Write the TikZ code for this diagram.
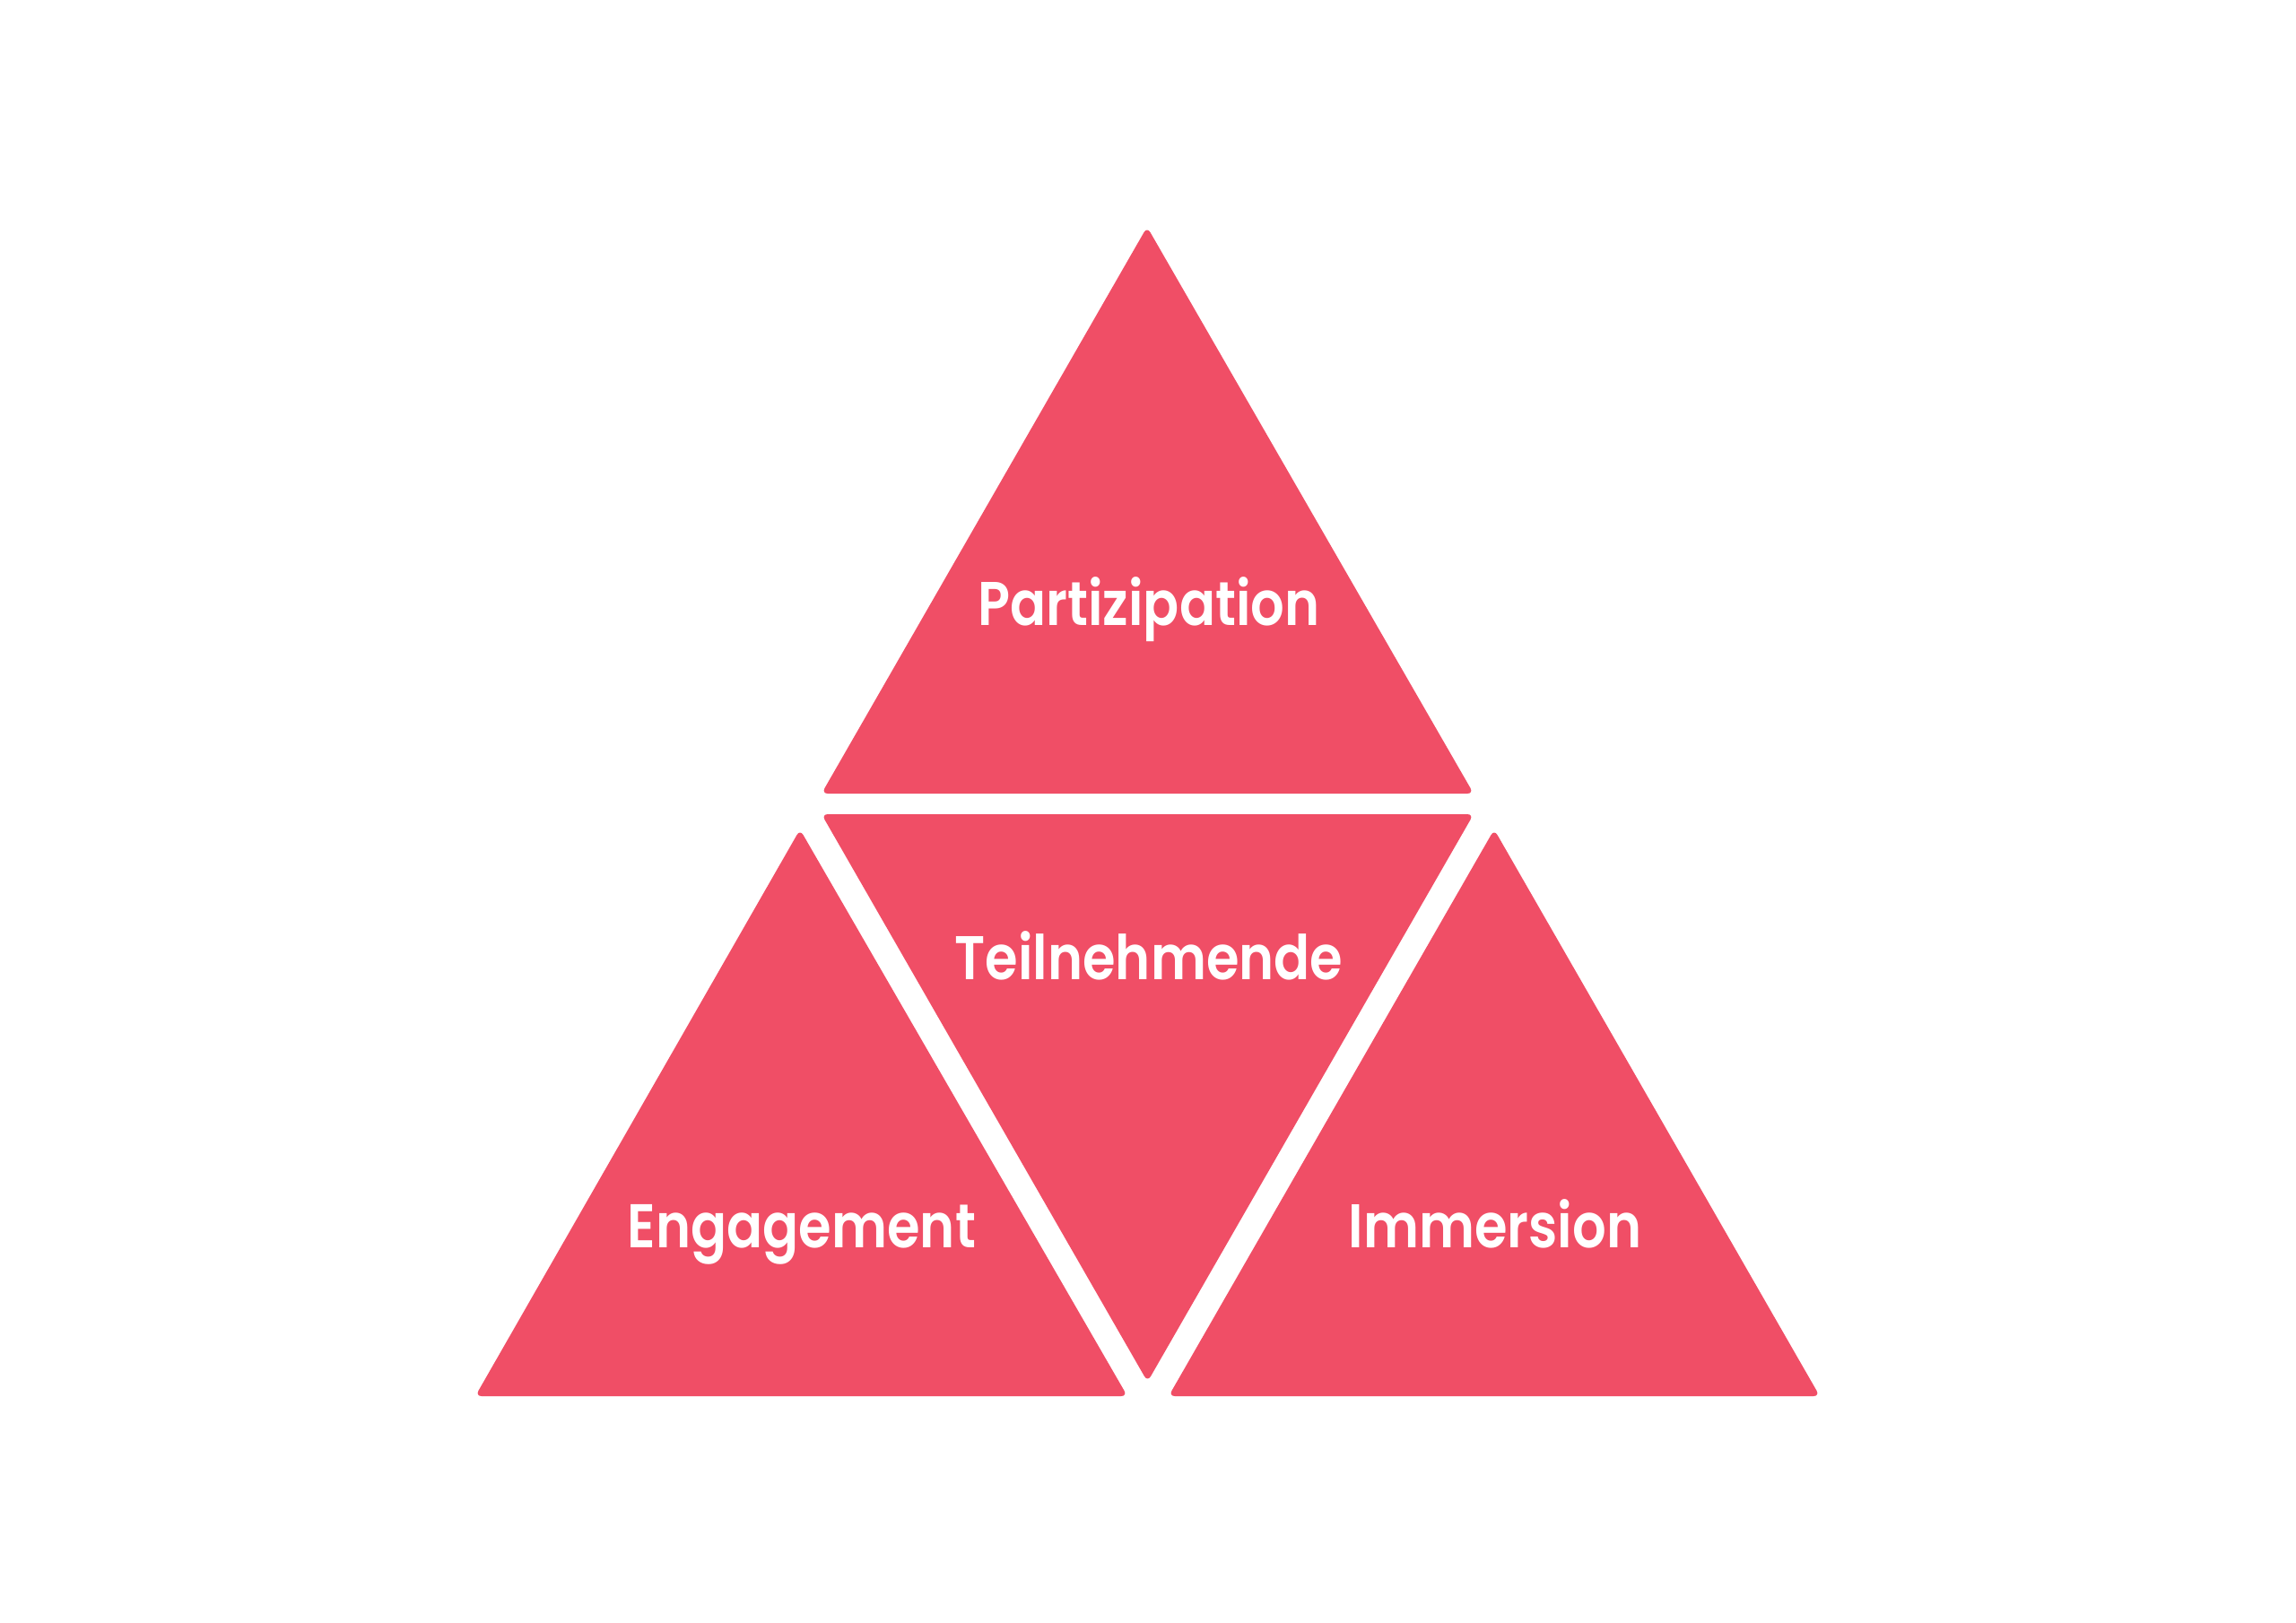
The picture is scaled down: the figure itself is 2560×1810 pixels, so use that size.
\documentclass[tikz,border=0pt]{standalone}
\usepackage{fontspec}
\setmainfont{Poppins}[BoldFont={Poppins SemiBold}]
\definecolor{tri}{HTML}{F04E66}
\newcommand{\narrowlbl}[1]{\scalebox{0.86}[1]{#1}}
\begin{document}
\begin{tikzpicture}[x=0.5pt,y=-0.5pt,
  tribox/.style={fill=tri,draw=none,rounded corners=3.5pt},
  lbl/.style={anchor=base,inner sep=0pt,text=white,font=\fontsize{34.4}{34.4}\selectfont\bfseries}]
\useasboundingbox[fill=white] (0,0) rectangle (2560,1810);
\fill[tribox] (1279,253) -- (1643,885) -- (916,885) -- cycle;
\fill[tribox] (916,908) -- (1643,908) -- (1279.5,1541) -- cycle;
\fill[tribox] (892,925) -- (1257,1557) -- (530,1557) -- cycle;
\fill[tribox] (1666,925) -- (2029,1557) -- (1303,1557) -- cycle;
\node[lbl] (p) at (1281,697) {\narrowlbl{Partizipation}};
\node[lbl] (t) at (1281,1092) {\narrowlbl{Teilnehmende}};
\node[lbl] (e) at (894,1391) {\narrowlbl{Engagement}};
\node[lbl] (i) at (1667,1391) {\narrowlbl{Immersion}};
\end{tikzpicture}
\end{document}
